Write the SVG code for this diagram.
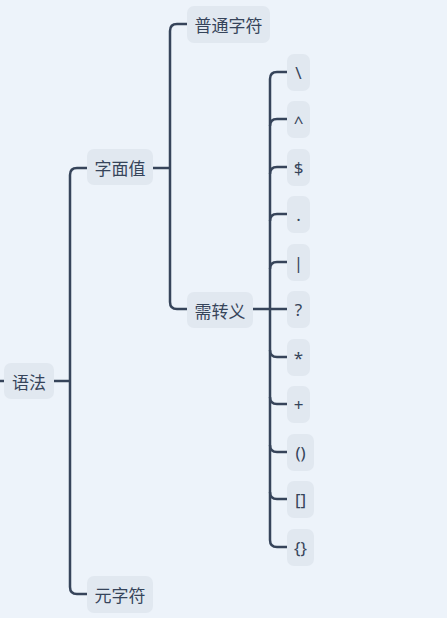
<svg xmlns="http://www.w3.org/2000/svg" width="447" height="618" viewBox="0 0 447 618">
<style>
.bg{fill:#EDF3FA}
.box{fill:#E1E8F0}
.lbl{font-family:"Noto Sans CJK SC","Noto Sans",sans-serif;font-size:17px;fill:#36445A;text-anchor:middle;dominant-baseline:central}
.leaf{font-family:"Noto Sans","DejaVu Sans",sans-serif;font-size:17px;fill:#36445A;text-anchor:middle;dominant-baseline:central}
.c{fill:none;stroke:#36445A;stroke-width:2.5;stroke-linecap:butt}
</style>
<rect class="bg" x="0" y="0" width="447" height="618"/>
<g id="connectors">
<path class="c" d="M0 381 H5"/>
<path class="c" d="M54 381 H70"/>
<path class="c" d="M87 168 H77 Q70 168 70 175 V587 Q70 594 77 594 H87"/>
<path class="c" d="M153 168 H170"/>
<path class="c" d="M187 24 H177 Q170 24 170 31 V302 Q170 309 177 309 H187"/>
<path class="c" d="M253 309 H287"/>
<path class="c" d="M287 72 H277 Q270 72 270 79 V540 Q270 547 277 547 H287"/>
<path class="c" d="M287 119 H277 Q270 119 270 126"/>
<path class="c" d="M287 167 H277 Q270 167 270 174"/>
<path class="c" d="M287 214 H277 Q270 214 270 221"/>
<path class="c" d="M287 262 H277 Q270 262 270 269"/>
<path class="c" d="M270 350 Q270 357 277 357 H287"/>
<path class="c" d="M270 397 Q270 404 277 404 H287"/>
<path class="c" d="M270 445 Q270 452 277 452 H287"/>
<path class="c" d="M270 492 Q270 499 277 499 H287"/>
</g>
<g id="n-root"><rect class="box" x="4" y="363" width="50" height="36" rx="7"/><text class="lbl" x="29" y="381">语法</text></g>
<g id="n-literal"><rect class="box" x="87" y="149" width="66" height="36" rx="7"/><text class="lbl" x="120" y="167">字面值</text></g>
<g id="n-normal"><rect class="box" x="187" y="6" width="83" height="37" rx="7"/><text class="lbl" x="228.5" y="24">普通字符</text></g>
<g id="n-escape"><rect class="box" x="187" y="292" width="66" height="36" rx="7"/><text class="lbl" x="220" y="310">需转义</text></g>
<g id="n-meta"><rect class="box" x="87" y="576" width="66" height="37" rx="7"/><text class="lbl" x="120" y="594">元字符</text></g>
<g id="n-backslash"><rect class="box" x="287" y="54" width="23" height="37" rx="7"/><text class="leaf" x="298.5" y="72">\</text></g>
<g id="n-caret"><rect class="box" x="287" y="101" width="23" height="37" rx="7"/><text class="leaf" x="298.5" y="121">^</text></g>
<g id="n-dollar"><rect class="box" x="287" y="149" width="23" height="37" rx="7"/><text class="leaf" x="298.5" y="167">$</text></g>
<g id="n-dot"><rect class="box" x="287" y="196" width="23" height="37" rx="7"/><text class="leaf" x="298.5" y="214">.</text></g>
<g id="n-pipe"><rect class="box" x="287" y="244" width="23" height="37" rx="7"/><text class="leaf" x="298.5" y="262">|</text></g>
<g id="n-question"><rect class="box" x="287" y="291" width="23" height="37" rx="7"/><text class="leaf" x="298.5" y="309">?</text></g>
<g id="n-star"><rect class="box" x="287" y="339" width="23" height="37" rx="7"/><text class="leaf" x="298.5" y="357">*</text></g>
<g id="n-plus"><rect class="box" x="287" y="386" width="23" height="37" rx="7"/><text class="leaf" x="298.5" y="404">+</text></g>
<g id="n-paren"><rect class="box" x="287" y="434" width="27" height="37" rx="7"/><text class="leaf" x="300.5" y="452">()</text></g>
<g id="n-bracket"><rect class="box" x="287" y="481" width="27" height="37" rx="7"/><text class="leaf" x="300.5" y="499">[]</text></g>
<g id="n-brace"><rect class="box" x="287" y="529" width="27" height="37" rx="7"/><text class="leaf" x="300.5" y="547">{}</text></g>
</svg>
